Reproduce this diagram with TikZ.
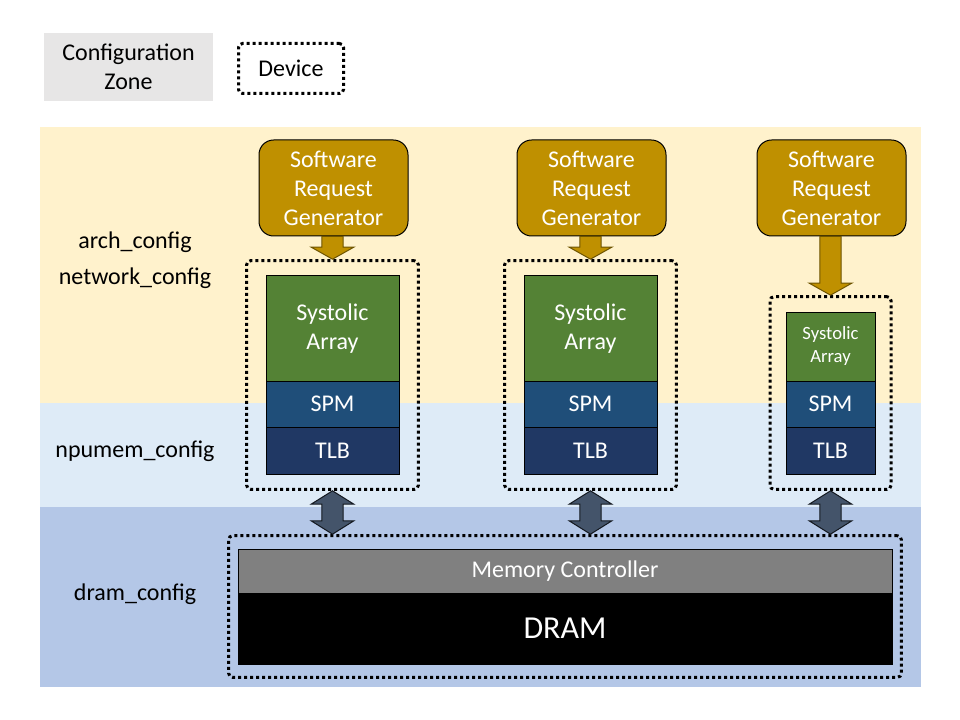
\documentclass[tikz,border=0pt]{standalone}
\usepackage{fontspec}
\setmainfont{Carlito}
\usetikzlibrary{positioning}
\usetikzlibrary{fit}
\usetikzlibrary{calc}
\definecolor{archyellow}{RGB}{255,242,204}
\definecolor{memblue}{RGB}{222,235,247}
\definecolor{dramblue}{RGB}{180,199,231}
\definecolor{legendgray}{RGB}{231,230,230}
\definecolor{srggold}{RGB}{191,144,0}
\definecolor{srgedge}{RGB}{110,84,0}
\definecolor{sagreen}{RGB}{84,130,53}
\definecolor{spmblue}{RGB}{31,78,121}
\definecolor{tlbnavy}{RGB}{32,56,100}
\definecolor{linkslate}{RGB}{68,84,106}
\definecolor{mcgray}{RGB}{128,128,128}
\tikzstyle{bigtext}=[font=\fontsize{18pt}{21.75pt}\selectfont]
\tikzstyle{srgbox}=[bigtext,draw=black,line width=0.75pt,fill=srggold,text=white,rounded corners=11pt,align=center,minimum width=111.75pt,minimum height=72pt]
\tikzstyle{hwblock}=[bigtext,draw=black,line width=0.75pt,text=white,align=center,inner sep=0pt,outer sep=0pt]
\tikzstyle{devbox}=[draw=black,line width=2.25pt,dash pattern=on 2.25pt off 2.25pt,rounded corners=3pt]
\tikzstyle{downarrow}=[fill=srggold,draw=srgedge,line width=0.75pt]
\tikzstyle{linkarrow}=[fill=linkslate,draw=black!70!linkslate,line width=0.75pt]

\begin{document}
\begin{tikzpicture}[x=0.75pt,y=-0.75pt]
  \useasboundingbox (0,0) rectangle (960,720);
  \fill[archyellow] (40,127) rectangle (921,403);
  \fill[memblue] (40,403) rectangle (921,507);
  \fill[dramblue] (40,507) rectangle (921,687);

  \node[bigtext,fill=legendgray,align=center,minimum width=126.75pt,minimum height=51pt] (zonekey) at (128.5,67) {Configuration\\Zone};
  \node[devbox,bigtext,minimum width=78.75pt,minimum height=37.5pt] (devkey) at (291,68.5) {Device};

  \node[bigtext] (archlbl) at (135,242) {arch\_config};
  \node[bigtext] (netlbl) at (135,278) {network\_config};
  \node[bigtext] (npulbl) at (135,451) {npumem\_config};
  \node[bigtext] (dramlbl) at (135,594) {dram\_config};

  \foreach \col/\cx in {A/333.5,B/591.5}{
    \node[srgbox] (srg\col) at (\cx,188) {Software\\Request\\Generator};
    \node[hwblock,fill=sagreen,minimum width=99.75pt,minimum height=78.75pt] (sa\col) at (\cx-1,328.5) {Systolic\\Array};
    \node[hwblock,fill=spmblue,minimum width=99.75pt,minimum height=34.5pt,below=0pt of sa\col] (spm\col) {SPM};
    \node[hwblock,fill=tlbnavy,minimum width=99.75pt,minimum height=35.25pt,below=0pt of spm\col] (tlb\col) {TLB};
    \node[devbox,fit=(sa\col)(tlb\col),inner xsep=14.5pt,inner ysep=11.5pt] (dev\col) {};
  }

  \node[srgbox] (srgC) at (831.5,188) {Software\\Request\\Generator};
  \node[hwblock,fill=sagreen,minimum width=66.75pt,minimum height=51.75pt,font=\fontsize{14pt}{17.25pt}\selectfont] (saC) at (830.5,346.5) {Systolic\\Array};
  \node[hwblock,fill=spmblue,minimum width=66.75pt,minimum height=34.5pt,below=0pt of saC] (spmC) {SPM};
  \node[hwblock,fill=tlbnavy,minimum width=66.75pt,minimum height=35.25pt,below=0pt of spmC] (tlbC) {TLB};
  \node[devbox,fit=(saC)(tlbC),inner xsep=12pt,inner ysep=11.5pt] (devC) {};

  \node[hwblock,fill=mcgray,minimum width=490.5pt,minimum height=33pt] (mc) at (565,571) {Memory Controller};
  \node[hwblock,fill=black,minimum width=490.5pt,minimum height=53.25pt,below=0pt of mc,font=\fontsize{24pt}{29pt}\selectfont] (dram) {DRAM};
  \node[devbox,fit=(mc)(dram),inner xsep=7pt,inner ysep=10pt] (devD) {};

  \foreach \col in {A,B,C}{
    \coordinate (src\col) at (dev\col.north |- srg\col.south);
    \draw[downarrow] ($(src\col)+(-8pt,0)$) -- ($(dev\col.north)+(-8pt,9pt)$) -- ++(-8pt,0) -- (dev\col.north) -- ++(16pt,9pt) -- ++(-8pt,0) -- ($(src\col)+(8pt,0)$) -- cycle;
    \coordinate (top\col) at (dev\col.south);
    \coordinate (bot\col) at (dev\col.south |- devD.north);
    \draw[linkarrow] (top\col) -- ++(16pt,-10pt) -- ++(-8pt,0) -- ($(bot\col)+(8pt,10pt)$) -- ++(8pt,0) -- (bot\col) -- ++(-16pt,10pt) -- ++(8pt,0) -- ($(top\col)+(-8pt,-10pt)$) -- ++(-8pt,0) -- cycle;
  }
\end{tikzpicture}
\end{document}
